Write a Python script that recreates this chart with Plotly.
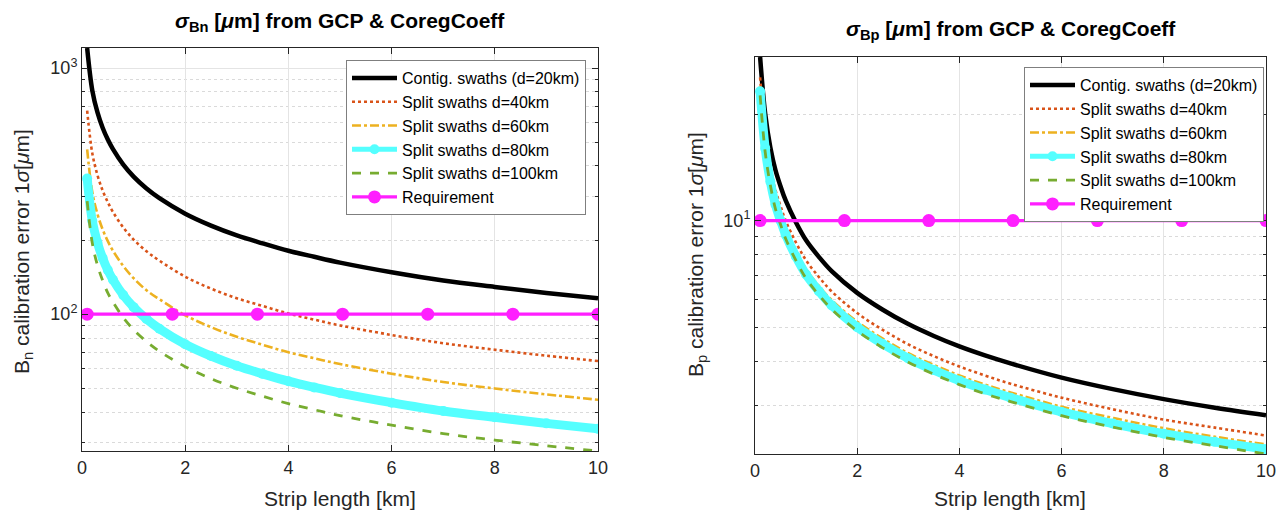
import numpy as np
import plotly.graph_objects as go

# ---------------- data ----------------
strip_km = [0.1, 0.2, 0.3, 0.4, 0.5, 0.6, 0.8, 1.0, 1.25, 1.5, 2.0, 2.5, 3.0, 3.5,
            4.0, 4.5, 5.0, 6.0, 7.0, 8.0, 9.0, 10.0]

# Left panel: sigma_Bn [um]
bn_d20 = [1206, 810, 660, 572, 512, 468, 405, 362, 324, 296, 256, 229, 209, 194,
          181, 171, 162, 148, 137, 129, 122, 116]
bn_d40 = [671, 450, 367, 318, 285, 260, 225, 201, 180, 165, 142, 127, 116, 108,
          100.6, 95, 90, 82.3, 76.2, 71.7, 67.8, 64.5]
bn_d60 = [467, 313, 255, 221, 198, 181, 157, 140, 125, 115, 99, 88.6, 80.9, 75.1,
          70, 66.2, 62.7, 57.3, 53, 49.9, 47.2, 44.9]
bn_d80 = [356, 239, 195, 169, 151, 138, 119.5, 106.8, 95.6, 87.3, 75.5, 67.6, 61.7, 57.2,
          53.4, 50.4, 47.8, 43.7, 40.4, 38.1, 36.0, 34.2]
bn_d100 = [288, 194, 158, 137, 122, 112, 96.8, 86.5, 77.4, 70.7, 61.2, 54.7, 50.0, 46.4,
           43.3, 40.9, 38.7, 35.4, 32.7, 30.8, 29.2, 27.8]

# Right panel: sigma_Bp [um]
bp_d20 = [29.0, 20.0, 16.1, 13.9, 12.5, 11.4, 9.9, 8.8, 7.9, 7.2, 6.25, 5.6, 5.1, 4.72,
          4.41, 4.16, 3.95, 3.6, 3.34, 3.13, 2.96, 2.82]
bp_d40 = [25.4, 17.5, 14.1, 12.2, 11.0, 10.0, 8.68, 7.72, 6.93, 6.31, 5.48, 4.91, 4.47, 4.14,
          3.87, 3.65, 3.46, 3.16, 2.93, 2.74, 2.60, 2.47]
bp_d60 = [24.0, 16.6, 13.3, 11.5, 10.35, 9.44, 8.2, 7.29, 6.54, 5.96, 5.18, 4.64, 4.22, 3.91,
          3.65, 3.44, 3.27, 2.98, 2.77, 2.59, 2.45, 2.33]
bp_d80 = [23.2, 16.0, 12.9, 11.1, 10.0, 9.12, 7.92, 7.04, 6.32, 5.76, 5.0, 4.48, 4.08, 3.78,
          3.53, 3.33, 3.16, 2.88, 2.67, 2.50, 2.37, 2.26]
bp_d100 = [22.6, 15.6, 12.6, 10.8, 9.75, 8.89, 7.72, 6.86, 6.16, 5.62, 4.88, 4.37, 3.98, 3.68,
           3.44, 3.24, 3.08, 2.81, 2.61, 2.44, 2.31, 2.19]

req_km = [0.1, 1.75, 3.4, 5.05, 6.7, 8.35, 10.0]
req_bn = [100, 100, 100, 100, 100, 100, 100]
req_bp = [10, 10, 10, 10, 10, 10, 10]

series_names = ["Contig. swaths (d=20km)", "Split swaths d=40km", "Split swaths d=60km",
                "Split swaths d=80km", "Split swaths d=100km", "Requirement"]

# ---------------- styling ----------------
FONT = "Liberation Sans, Arial, Helvetica, sans-serif"
AX = "#262626"
C_BLACK = "#000000"
C_RED = "#D95319"
C_YEL = "#EDB120"
C_CYAN = "#55FFFF"
C_GREEN = "#77AC30"
C_MAG = "#FF1FFF"

fig = go.Figure()


def add_panel(xa, ya, leg, d20, d40, d60, d80, d100, req):
    fig.add_trace(go.Scatter(x=strip_km, y=d20, mode="lines", name=series_names[0],
                             line=dict(color=C_BLACK, width=4.5, shape="spline"),
                             xaxis=xa, yaxis=ya, legend=leg))
    fig.add_trace(go.Scatter(x=strip_km, y=d40, mode="lines", name=series_names[1],
                             line=dict(color=C_RED, width=2.6, dash="dot", shape="spline"),
                             xaxis=xa, yaxis=ya, legend=leg))
    fig.add_trace(go.Scatter(x=strip_km, y=d60, mode="lines", name=series_names[2],
                             line=dict(color=C_YEL, width=2.6, dash="dashdot", shape="spline"),
                             xaxis=xa, yaxis=ya, legend=leg))
    # thick cyan band (drawn) + legend entry
    fig.add_trace(go.Scatter(x=strip_km, y=d80, mode="lines+markers", name=series_names[3],
                             line=dict(color=C_CYAN, width=9, shape="spline"),
                             marker=dict(color=C_CYAN, size=10, symbol="circle"),
                             xaxis=xa, yaxis=ya, legend=leg, showlegend=False))
    fig.add_trace(go.Scatter(x=[None], y=[None], mode="lines+markers", name=series_names[3],
                             line=dict(color=C_CYAN, width=5),
                             marker=dict(color=C_CYAN, size=10, symbol="circle"),
                             xaxis=xa, yaxis=ya, legend=leg))
    fig.add_trace(go.Scatter(x=strip_km, y=d100, mode="lines", name=series_names[4],
                             line=dict(color=C_GREEN, width=2.8, dash="dash", shape="spline"),
                             xaxis=xa, yaxis=ya, legend=leg))
    fig.add_trace(go.Scatter(x=req_km, y=req, mode="lines+markers", name=series_names[5],
                             line=dict(color=C_MAG, width=3.2),
                             marker=dict(color=C_MAG, size=13, symbol="circle"),
                             xaxis=xa, yaxis=ya, legend=leg))


add_panel("x", "y", "legend", bn_d20, bn_d40, bn_d60, bn_d80, bn_d100, req_bn)
add_panel("x2", "y2", "legend2", bp_d20, bp_d40, bp_d60, bp_d80, bp_d100, req_bp)

W, H = 1285, 513


def px_x(a, b):
    return [a / W, b / W]


def px_y(top, bot):
    return [1 - bot / H, 1 - top / H]


all_bn = bn_d20 + bn_d40 + bn_d60 + bn_d80 + bn_d100
all_bp = bp_d20 + bp_d40 + bp_d60 + bp_d80 + bp_d100

tickfont = dict(family=FONT, size=18, color=AX)
titlefont = dict(family=FONT, size=21, color=AX)

xcommon = dict(range=[0, 10], tickmode="array", tickvals=[0, 2, 4, 6, 8, 10],
               ticks="inside", ticklen=6, tickcolor=AX, showline=True, linecolor=AX,
               linewidth=1, mirror="ticks", showgrid=True, gridcolor="#e4e4e4",
               gridwidth=1, zeroline=False, tickfont=tickfont, automargin=False)

ycommon = dict(type="log", ticks="inside", ticklen=6, tickcolor=AX, showline=True,
               linecolor=AX, linewidth=1, mirror="ticks", showgrid=True,
               gridcolor="#e4e4e4", zeroline=False, tickfont=tickfont, automargin=False)

minor_style = dict(ticks="inside", ticklen=3, tickcolor=AX, showgrid=True,
                   gridcolor="#dadada", griddash="dot", gridwidth=1)

fig.update_layout(
    width=W, height=H,
    margin=dict(l=0, r=0, t=0, b=0, autoexpand=False),
    paper_bgcolor="white", plot_bgcolor="white",
    font=dict(family=FONT, color=AX),
    xaxis=dict(domain=px_x(82, 598), anchor="y", **xcommon),
    xaxis2=dict(domain=px_x(755, 1266), anchor="y2", **xcommon),
    yaxis=dict(domain=px_y(48, 451), anchor="x",
               range=[np.log10(min(all_bn)), np.log10(max(all_bn))],
               tickmode="array", tickvals=[100, 1000],
               ticktext=["10<sup>2</sup>", "10<sup>3</sup>"],
               minor=dict(tickmode="array",
                          tickvals=[30, 40, 50, 60, 70, 80, 90, 200, 300, 400, 500, 600, 700, 800, 900],
                          **minor_style),
               **ycommon),
    yaxis2=dict(domain=px_y(57, 454), anchor="x2",
                range=[np.log10(min(all_bp)), np.log10(max(all_bp))],
                tickmode="array", tickvals=[10], ticktext=["10<sup>1</sup>"],
                minor=dict(tickmode="array", tickvals=[3, 4, 5, 6, 7, 8, 9, 20], **minor_style),
                **ycommon),
    legend=dict(x=586 / W, y=1 - 60 / H, xanchor="right", yanchor="top",
                bgcolor="white", bordercolor="#7f7f7f", borderwidth=1,
                font=dict(family=FONT, size=16, color="#000000"),
                tracegroupgap=0, itemwidth=45),
    legend2=dict(x=1264 / W, y=1 - 67 / H, xanchor="right", yanchor="top",
                 bgcolor="white", bordercolor="#7f7f7f", borderwidth=1,
                 font=dict(family=FONT, size=16, color="#000000"),
                 tracegroupgap=0, itemwidth=45),
)

annots = [
    # panel titles
    dict(text="<b><i>σ</i><sub>Bn</sub> [<i>μ</i>m] from GCP &amp; CoregCoeff</b>",
         x=340 / W, y=1 - 22 / H, font=dict(family=FONT, size=21, color="#000000")),
    dict(text="<b><i>σ</i><sub>Bp</sub> [<i>μ</i>m] from GCP &amp; CoregCoeff</b>",
         x=1011 / W, y=1 - 30 / H, font=dict(family=FONT, size=21, color="#000000")),
    # axis titles
    dict(text="Strip length [km]", x=340 / W, y=1 - 498 / H, font=titlefont),
    dict(text="Strip length [km]", x=1010 / W, y=1 - 498 / H, font=titlefont),
    dict(text="B<sub>n</sub> calibration error 1<i>σ</i>[<i>μ</i>m]", x=23 / W,
         y=1 - 252 / H, textangle=-90, font=titlefont),
    dict(text="B<sub>p</sub> calibration error 1<i>σ</i>[<i>μ</i>m]", x=697 / W,
         y=1 - 255 / H, textangle=-90, font=titlefont),
]
for a in annots:
    a.update(xref="paper", yref="paper", xanchor="center", yanchor="middle", showarrow=False)
fig.update_layout(annotations=annots)

fig.write_html("out.html", config={"displayModeBar": False},
               post_script="document.body.style.margin='0';document.body.style.overflow='hidden';")
